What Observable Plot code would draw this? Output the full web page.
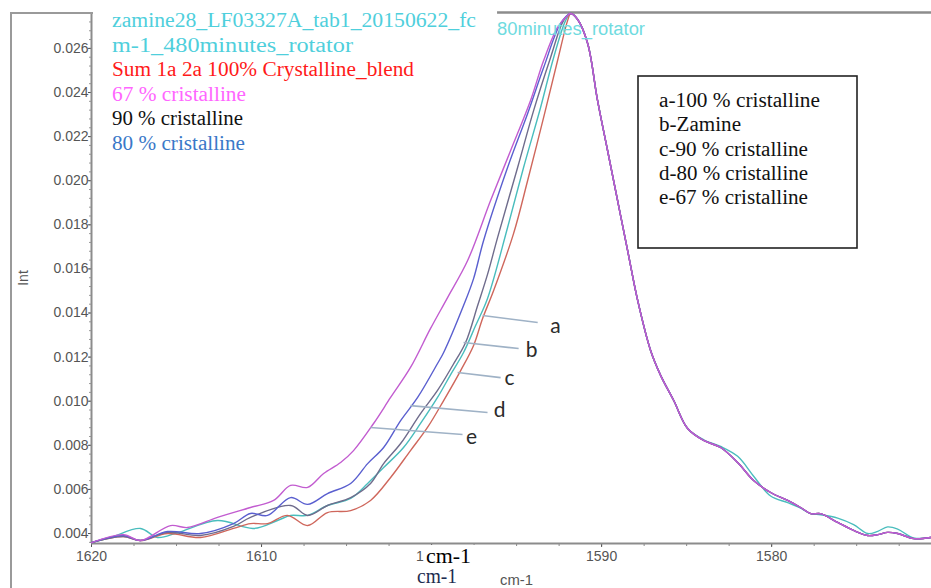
<!DOCTYPE html>
<html><head><meta charset="utf-8">
<script src="https://cdn.jsdelivr.net/npm/d3@7"></script>
<script src="https://cdn.jsdelivr.net/npm/@observablehq/plot@0.6"></script>
<style>html,body{margin:0;padding:0;background:#fff;} #chart{width:931px;height:588px;overflow:hidden;}</style>
</head><body><div id="chart"></div>
<script>
// ---- data: [wavenumber (cm-1), intensity] ----
const left_a = [[1620,0.00359],[1618.12,0.00386],[1617.12,0.00368],[1615.53,0.0040],[1613.59,0.00382],[1611.65,0.00423],[1610.65,0.00445],[1609.65,0.00445],[1608.47,0.00482],[1607.29,0.00436],[1606.12,0.00495],[1604.76,0.00504],[1603.59,0.0055],[1602.41,0.00654],[1601.24,0.00776],[1600.24,0.00881],[1599.29,0.01003],[1598.29,0.01139],[1597.53,0.01253],[1597.0,0.01375],[1596.35,0.01502],[1595.18,0.0176],[1594.35,0.02001],[1593.41,0.02287],[1592.59,0.02545],[1592.0,0.02726],[1591.82,0.02758]];
const left_b = [[1620,0.00359],[1618.88,0.00382],[1617.12,0.00423],[1616.12,0.00382],[1614.94,0.00404],[1612.59,0.00459],[1610.47,0.00423],[1609.06,0.00459],[1608.29,0.00482],[1607.29,0.00482],[1606.12,0.00527],[1604.76,0.00559],[1603.76,0.00627],[1602.82,0.00699],[1601.65,0.0079],[1600.65,0.00899],[1599.65,0.01017],[1598.88,0.01121],[1598.12,0.01221],[1597.41,0.01343],[1596.71,0.01466],[1595.53,0.01788],[1594.59,0.0206],[1593.59,0.02332],[1592.82,0.02559],[1592.12,0.02726],[1591.82,0.02758]];
const left_c = [[1620,0.00359],[1618.12,0.00386],[1617.12,0.00368],[1615.53,0.00405],[1613.59,0.00391],[1611.65,0.00432],[1610.65,0.00473],[1608.29,0.00527],[1607.29,0.00482],[1606.12,0.00527],[1604.76,0.00563],[1603.59,0.00627],[1602.82,0.00717],[1601.82,0.00808],[1600.65,0.00944],[1599.65,0.01049],[1598.76,0.01162],[1598.0,0.01266],[1597.29,0.01434],[1596.71,0.01575],[1596.12,0.01742],[1594.94,0.0206],[1594.0,0.02318],[1593.0,0.02559],[1592.24,0.02726],[1591.82,0.02758]];
const left_d = [[1620,0.00359],[1618.12,0.00391],[1617.12,0.00368],[1615.53,0.00409],[1613.59,0.0040],[1611.65,0.00445],[1610.65,0.00491],[1609.65,0.00482],[1608.29,0.00563],[1607.29,0.00532],[1606.12,0.00581],[1604.76,0.00627],[1603.76,0.00717],[1602.82,0.0079],[1601.82,0.00912],[1600.82,0.01017],[1599.65,0.01171],[1599.29,0.01221],[1598.12,0.01434],[1597.53,0.01556],[1596.94,0.01729],[1595.53,0.0206],[1594.35,0.02305],[1593.41,0.02513],[1592.41,0.02713],[1591.82,0.02758]];
const left_e = [[1620,0.00359],[1618.12,0.00395],[1617.12,0.00368],[1615.35,0.00436],[1614.35,0.00427],[1612.59,0.00473],[1610.65,0.00518],[1609.29,0.0055],[1608.29,0.00618],[1607.29,0.00609],[1606.35,0.00672],[1605.35,0.00722],[1604.59,0.00776],[1603.41,0.00899],[1602.41,0.01017],[1601.24,0.01153],[1600.06,0.0133],[1599.06,0.0147],[1597.88,0.01638],[1596.53,0.0191],[1595.35,0.02137],[1594.18,0.02364],[1593.41,0.02545],[1592.59,0.02695],[1592.0,0.02749],[1591.82,0.02758]];
const right_common = [[1591.41,0.02731],[1590.82,0.02622],[1590.24,0.02364],[1589.65,0.02137],[1589.06,0.0191],[1588.47,0.01683],[1587.88,0.01457],[1587.12,0.0123],[1586.53,0.01117],[1585.76,0.01003],[1584.94,0.00876],[1584.0,0.00822],[1583.0,0.0079],[1582.0,0.00722],[1581.06,0.0064],[1580.06,0.00586],[1579.06,0.0055],[1578.3,0.00518],[1577.7,0.0049],[1577.12,0.0049],[1576.12,0.0045],[1575.18,0.00414],[1574.35,0.00391],[1573.76,0.00395],[1573.18,0.00405],[1572.59,0.0040],[1571.65,0.00377],[1570.65,0.00382]];
const right_b = [[1591.41,0.02731],[1590.82,0.02622],[1590.24,0.02364],[1589.65,0.02137],[1589.06,0.0191],[1588.47,0.01683],[1587.88,0.01457],[1587.12,0.0123],[1586.53,0.01117],[1585.76,0.01003],[1584.94,0.00876],[1584.0,0.00825],[1583.0,0.00795],[1582.0,0.0075],[1581.06,0.0066],[1580.06,0.0057],[1579.06,0.0054],[1578.3,0.00515],[1577.7,0.0049],[1577.12,0.00485],[1576.12,0.0047],[1575.18,0.0044],[1574.35,0.0040],[1573.76,0.0041],[1573.18,0.0043],[1572.59,0.0042],[1571.65,0.0038],[1570.65,0.00382]];

const seriesKeys   = ["b", "a", "c", "d", "e"];
const seriesNames  = ["Zamine", "100 % cristalline", "90 % cristalline", "80 % cristalline", "67 % cristalline"];
const seriesColors = ["#49bdbd", "#cf675c", "#6f6c8c", "#5a5fcf", "#c25cd0"];
const seriesLeft   = [left_b, left_a, left_c, left_d, left_e];
const seriesRight  = [right_b, right_common, right_common, right_common, right_common];

// tick labels
const xTicks = [1620, 1610, 1600, 1590, 1580];
const yTicks = [0.004, 0.006, 0.008, 0.010, 0.012, 0.014, 0.016, 0.018, 0.020, 0.022, 0.024, 0.026];

// annotation letters and leader lines (data coordinates)
const annLabels = ["a", "b", "c", "d", "e"];
const annFrom   = [[1597.0,0.01389],[1598.12,0.01266],[1598.47,0.0113],[1601.24,0.0098],[1603.59,0.00881]];
const annTo     = [[1593.76,0.01357],[1594.88,0.01239],[1595.94,0.01107],[1596.71,0.00949],[1598.18,0.00849]];
const annText   = [[1592.71,0.01339],[1594.12,0.0123],[1595.41,0.01103],[1596.0,0.00958],[1597.65,0.00835]];

// legend texts
const legendLines  = ["zamine28_LF03327A_tab1_20150622_fc", "m-1_480minutes_rotator", "Sum 1a 2a 100% Crystalline_blend", "67 % cristalline", "90 % cristalline", "80 % cristalline"];
const legendColors = ["#4fcfdc", "#4fcfdc", "#ff1a1a", "#ff66ff", "#111111", "#3a78c8"];
const boxLines     = ["a-100 % cristalline", "b-Zamine", "c-90 % cristalline", "d-80 % cristalline", "e-67 % cristalline"];

// ---- build ----
const xDomain = [1620, 1570.6];
const yDomain = [0.003547, 0.027628];
const xMinor = d3.range(1620, 1570, -2.5);
const yMinor = d3.range(0.0036, 0.0276, 0.0004);

const lineMarks = seriesKeys.map((k, i) => {
  const pts = [...seriesLeft[i], ...seriesRight[i]].map(([wn, v]) => ({wn, v, key: k, name: seriesNames[i]}));
  return Plot.line(pts, {x: "wn", y: "v", stroke: seriesColors[i], strokeWidth: 1.4, curve: "catmull-rom"});
});

const ann = annLabels.map((l, i) => ({
  label: l, x1: annFrom[i][0], y1: annFrom[i][1], x2: annTo[i][0], y2: annTo[i][1], tx: annText[i][0], ty: annText[i][1]
}));

const plot = Plot.plot({
  width: 931, height: 588,
  marginLeft: 91, marginRight: 0, marginTop: 12, marginBottom: 45,
  x: {domain: xDomain, label: null},
  y: {domain: yDomain, label: null},
  style: {fontFamily: "'Liberation Sans', Arial, sans-serif", fontSize: "14px", color: "#555", background: "#fff"},
  marks: [
    Plot.axisX(xMinor, {tickSize: 3, tickFormat: () => "", color: "#888"}),
    Plot.axisX(xTicks, {tickSize: 4, tickPadding: 4, tickFormat: d => String(d), color: "#555", fontSize: 14}),
    Plot.axisY(yMinor, {tickSize: 2, tickFormat: () => "", color: "#999"}),
    Plot.axisY(yTicks, {tickSize: 3, tickPadding: 0, tickFormat: d3.format(".3f"), color: "#555", fontSize: 14}),
    Plot.ruleY([yDomain[0]], {stroke: "#8c8c8c", strokeWidth: 2}),
    Plot.ruleX([xDomain[0]], {stroke: "#8c8c8c", strokeWidth: 2}),
    Plot.ruleY([yDomain[1]], {x1: 1596.12, x2: xDomain[1], stroke: "#8c8c8c", strokeWidth: 2.5}),
    ...lineMarks,
    Plot.link(ann, {x1: "x1", y1: "y1", x2: "x2", y2: "y2", stroke: "#9fb2c6", strokeWidth: 1.6}),
    Plot.text(ann, {x: "tx", y: "ty", text: "label", fontSize: 21, fill: "#2b2b2b", fontFamily: "Lato, 'Open Sans', sans-serif"})
  ]
});
document.getElementById("chart").appendChild(plot);

// ---- overlays (frame, legends, captions) ----
const svg = d3.select(plot);
const serif = "'Liberation Serif', 'Times New Roman', serif";
const sans = "'Liberation Sans', Arial, sans-serif";
const addText = (t, x, y, font, size, fill, len) => {
  const el = svg.append("text").text(t).attr("x", x).attr("y", y)
    .attr("text-anchor", "start").attr("font-family", font).attr("font-size", size).attr("fill", fill);
  if (len) el.attr("textLength", len).attr("lengthAdjust", "spacingAndGlyphs");
  return el;
};
svg.append("line").attr("x1", 11).attr("y1", 12).attr("x2", 11).attr("y2", 588).attr("stroke", "#9a9a9a").attr("stroke-width", 2);
svg.append("line").attr("x1", 10).attr("y1", 13).attr("x2", 93).attr("y2", 13).attr("stroke", "#9a9a9a").attr("stroke-width", 2);

addText("80minutes_rotator", 497, 35, sans, 18, "#6fdbe0", 148);

const legendWidths = [364, 241, 302, 134, 131, 133];
legendLines.forEach((t, i) => addText(t, 112, 27 + i * 24.6, serif, 20, legendColors[i], legendWidths[i]));

svg.append("rect").attr("x", 638).attr("y", 76).attr("width", 219).attr("height", 172)
  .attr("fill", "#fff").attr("stroke", "#222").attr("stroke-width", 1.6);
const boxWidths = [161, 82, 149, 149, 149];
boxLines.forEach((t, i) => addText(t, 659, 107 + i * 24.3, serif, 20, "#111", boxWidths[i]));

svg.append("text").text("Int").attr("transform", "translate(28,278) rotate(-90)")
  .attr("text-anchor", "middle").attr("font-family", sans).attr("font-size", 14).attr("fill", "#555");

svg.append("rect").attr("x", 424).attr("y", 545).attr("width", 58).attr("height", 24).attr("fill", "#fff");
addText("cm-1", 426, 563, serif, 22, "#000", 45);
addText("cm-1", 417, 583, serif, 20, "#1c2c50", 40);
addText("cm-1", 500, 585, sans, 14, "#555", 33);
</script>
</body></html>
